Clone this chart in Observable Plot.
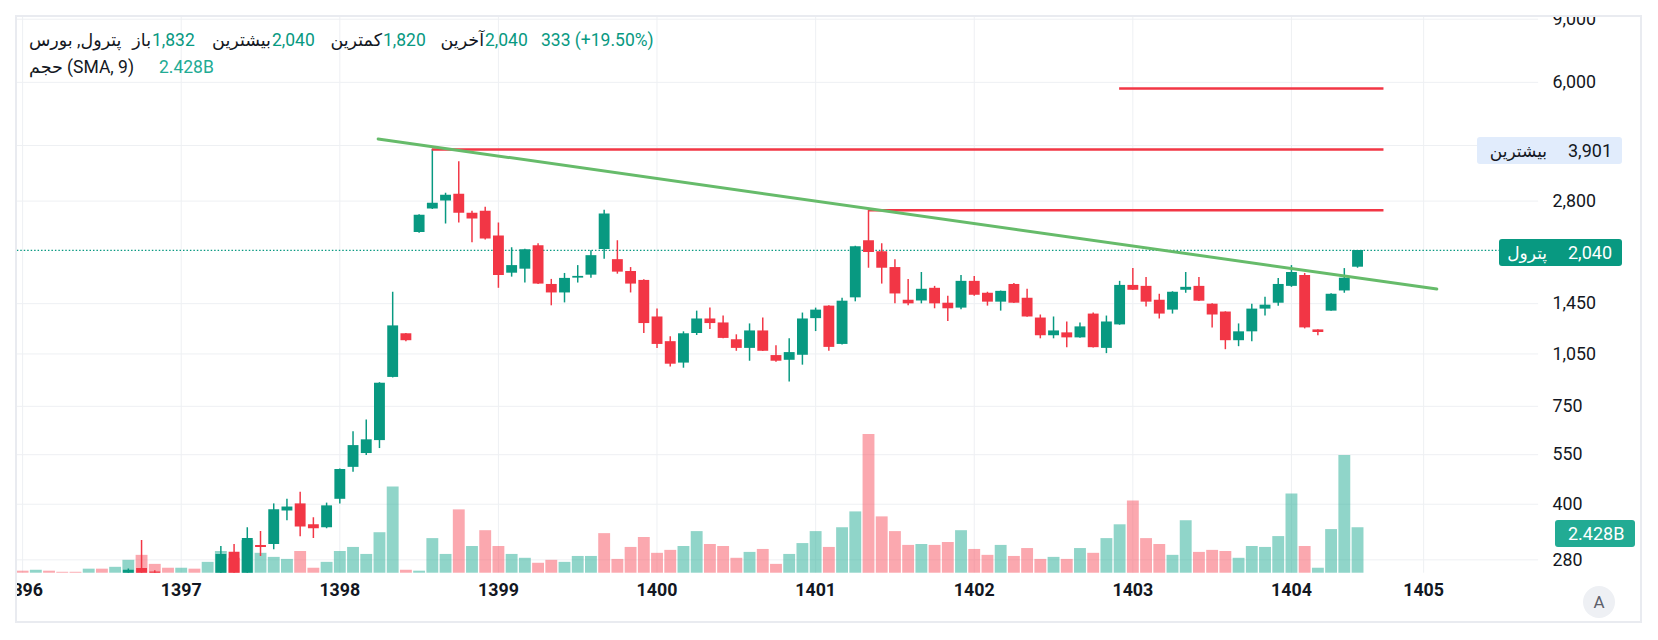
<!DOCTYPE html>
<html>
<head>
<meta charset="utf-8">
<script src="https://cdn.jsdelivr.net/npm/d3@7"></script>
<script src="https://cdn.jsdelivr.net/npm/@observablehq/plot@0.6"></script>
<style>
  html, body { margin: 0; padding: 0; background: #ffffff; }
  body { width: 1658px; height: 640px; overflow: hidden; font-family: Roboto, "DejaVu Sans", sans-serif; }
  #wrap { position: relative; width: 1658px; height: 640px; }
  #frame { position: absolute; left: 15px; top: 15px; width: 1627px; height: 608px; box-sizing: border-box;
           border: 2px solid #e9ebf0; overflow: hidden; }
  .layer { position: absolute; left: -17px; top: -17px; }
  .abs { position: absolute; white-space: pre; line-height: 22px; height: 22px; font-size: 17.5px; }
  .iso { unicode-bidi: isolate; }
  .badge { position: absolute; border-radius: 3px; }
  #auto { position: absolute; left: 1583px; top: 586px; width: 32px; height: 32px; border-radius: 16px;
          background: #eef0f4; color: #5d606b; font-size: 17px; line-height: 32px; text-align: center; }
</style>
</head>
<body>
<div id="wrap">
  <div id="frame"></div>
  <div id="auto">A</div>
</div>
<script>
// ---------- data ----------
const firstBar = -12;                       // bar index of 1396/01 (monthly bars)
const yearBars   = [-12, 0, 12, 24, 36, 48, 60, 72, 84, 94];
const yearLabels = ["1396","1397","1398","1399","1400","1401","1402","1403","1404","1405"];
const priceGrid   = [9000, 6000, 4000, 2800, 1450, 1050, 750, 550, 400, 280];
const priceLabels = [9000, 6000, 2800, 1450, 1050, 750, 550, 400, 280];

// monthly volume (billions), from 1396/01
const volumes = [
  0.11,0.16,0.11,0.05,0.05,0.22,0.22,0.32,0.70,0.97,0.48,0.27,   // 1396
  0.27,0.22,0.59,1.18,0.81,1.77,1.08,0.86,0.75,1.18,0.27,0.59,   // 1397
  1.18,1.40,1.02,2.20,4.68,0.16,0.11,1.88,1.02,3.44,1.45,2.31,   // 1398
  1.45,1.02,0.81,0.54,0.70,0.59,0.91,0.91,2.15,0.75,1.40,1.94,   // 1399
  1.08,1.24,1.45,2.26,1.56,1.45,0.81,1.13,1.29,0.48,1.02,1.61,   // 1400
  2.26,1.40,2.47,3.33,7.53,3.06,2.26,1.51,1.56,1.51,1.67,2.31,   // 1401
  1.29,0.97,1.51,0.91,1.34,0.75,0.86,0.75,1.34,1.08,1.88,2.63,   // 1402
  3.92,1.88,1.56,0.97,2.85,1.13,1.24,1.18,0.81,1.45,1.40,1.99,   // 1403
  4.30,1.45,0.27,2.37,6.40,2.47                                  // 1404
];
const volumeDirs = [
  "d","u","d","d","d","u","d","u","u","d","d","d",
  "u","d","u","u","d","u","u","u","u","d","d","u",
  "u","u","u","u","u","d","u","u","u","d","u","d",
  "d","u","u","d","d","u","u","u","d","d","d","d",
  "d","d","u","u","d","d","d","u","d","d","u","u",
  "u","d","u","u","d","d","d","d","u","d","d","u",
  "d","d","u","d","d","d","u","d","u","d","u","u",
  "d","d","d","u","u","d","d","d","u","u","u","u",
  "u","d","u","u","u","u"
];

// monthly candles from bar index -4 (1396/09); null = below the visible range
const candleFirst = -4;
const opens = [
  256, 265, 259, null, null, null, null, 256, 294, 256, 307, 309, 383, 401, 351, 344,
  413, 507, 554, 602, 903, 1195, 2288, 2664, 2803, 2924, 2592, 2625,
  2240, 1763, 1809, 2102, 1640, 1553, 1708, 1741, 2054, 1923, 1782, 1683,
  1331, 1136, 990, 1197, 1314, 1281, 1150, 1088, 1217, 1039, 1008, 1041,
  1317, 1427, 1116, 1505, 2170, 2023, 1828, 1482, 1475, 1600, 1454, 1409,
  1673, 1550, 1464, 1640, 1501, 1322, 1180, 1202, 1164, 1356, 1088, 1265,
  1630, 1620, 1482, 1391, 1580, 1620, 1445, 1374, 1143, 1210, 1400, 1454,
  1620, 1737, 1225, 1382, 1573, 1832
];
const highs = [
  264, 317, 261, null, null, null, null, 305, 309, 344, 336, 401, 413, 432, 367, 403,
  502, 637, 687, 873, 1560, 1197, 2565, 3901, 2943, 3606, 2625, 2693,
  2432, 2075, 2055, 2129, 1694, 1760, 1851, 2036, 2642, 2170, 1828, 1690,
  1400, 1172, 1210, 1382, 1409, 1339, 1187, 1273, 1322, 1107, 1157, 1365,
  1409, 1430, 1501, 2095, 2642, 2129, 1923, 1694, 1771, 1620, 1521, 1737,
  1727, 1560, 1572, 1651, 1590, 1348, 1331, 1289, 1281, 1365, 1339, 1673,
  1816, 1715, 1540, 1565, 1771, 1715, 1448, 1376, 1273, 1445, 1511, 1705,
  1851, 1760, 1227, 1545, 1816, 2040
];
const lows = [
  256, 256, 256, null, null, null, null, 256, 256, 256, 286, 299, 360, 325, 321, 342,
  401, 491, 547, 572, 900, 1136, 2280, 2655, 2417, 2432, 2142, 2183,
  1600, 1719, 1655, 1640, 1430, 1457, 1655, 1708, 1927, 1752, 1553, 1197,
  1088, 965, 958, 1182, 1228, 1158, 1068, 1002, 1066, 996, 877, 977,
  1212, 1068, 1112, 1467, 1820, 1644, 1448, 1430, 1448, 1403, 1292, 1394,
  1521, 1427, 1382, 1452, 1328, 1157, 1157, 1093, 1162, 1090, 1052, 1262,
  1578, 1418, 1314, 1356, 1550, 1470, 1241, 1079, 1100, 1136, 1339, 1427,
  1610, 1233, 1180, 1380, 1550, 1820
];
const closes = [
  262, 256, 256, null, null, null, null, 290, 256, 321, 303, 386, 393, 346, 342, 396,
  500, 583, 605, 870, 1257, 1143, 2559, 2761, 2906, 2592, 2495, 2197,
  1737, 1851, 2049, 1644, 1553, 1705, 1727, 1973, 2576, 1775, 1644, 1276,
  1116, 983, 1195, 1314, 1276, 1160, 1088, 1217, 1068, 1002, 1059, 1314,
  1391, 1095, 1473, 2089, 2015, 1820, 1543, 1448, 1590, 1448, 1403, 1673,
  1530, 1464, 1569, 1454, 1331, 1180, 1217, 1164, 1249, 1093, 1289, 1630,
  1580, 1464, 1356, 1560, 1610, 1473, 1348, 1143, 1210, 1400, 1436, 1640,
  1771, 1241, 1205, 1540, 1707, 2040
];

// drawn levels and trend line
const levelPrices = [5770, 3901, 2642];
const levelFrom   = [71, 19, 52];
const levelTo     = [91, 91, 91];
const trendBars   = [14.9, 95];
const trendPrices = [4173, 1592];

const lastPrice = 2040;
const highPrice = 3901;
const volumeSMA = 2.428;
const symbolName = "پترول";
const legendTitle = "پترول, بورس";
const ohlcLabels = ["باز", "بیشترین", "کمترین", "آخرین"];
const ohlcValues = ["1,832", "2,040", "1,820", "2,040"];
const changeText = "333 (+19.50%)";
const volumeTitle = "حجم (SMA, 9)";
const volumeText = "2.428B";
const highLabel = "بیشترین";

// ---------- scales / layout ----------
const xDomain = [-12.4, 102.7];
const yDomain = [257, 9110];
const volDomain = [0, 30.2];
const FONT = "Roboto, 'DejaVu Sans', sans-serif";
const GREEN = "#089981", RED = "#f23645";
const fmt = d3.format(",");

const base = {
  width: 1658, height: 640,
  marginLeft: 17, marginRight: 103, marginTop: 17, marginBottom: 61,
  style: { background: "transparent", fontFamily: FONT, overflow: "visible" },
  x: { domain: xDomain, axis: null }
};
const priceY = { type: "log", domain: yDomain, axis: null };

const candles = opens.map((o, i) => ({ n: candleFirst + i, o, h: highs[i], l: lows[i], c: closes[i] }))
  .filter(d => d.o != null);
const vols = volumes.map((v, i) => ({ n: firstBar + i, v, dir: volumeDirs[i] }));
const levels = levelPrices.map((p, i) => ({ p, a: levelFrom[i], b: levelTo[i] }));
const trend = trendBars.map((n, i) => ({ n, p: trendPrices[i] }));

// layer A: grid and axis labels
const layerA = Plot.plot({
  ...base, y: priceY,
  marks: [
    Plot.ruleX(yearBars, { stroke: "#eef0f3", strokeOpacity: 1 }),
    Plot.ruleY(priceGrid, { stroke: "#eef0f3", strokeOpacity: 1 }),
    Plot.text(priceLabels, { y: d => d, frameAnchor: "right", dx: 14, textAnchor: "start",
      text: d => fmt(d), fontSize: 18, fill: "#131722" }),
    Plot.text(yearBars, { x: d => d, frameAnchor: "bottom", dy: 23,
      text: (d, i) => yearLabels[i], fontSize: 18, fontWeight: 700, fill: "#131722" })
  ]
});

// layer B: volume
const layerB = Plot.plot({
  ...base, y: { domain: volDomain, axis: null },
  marks: [
    Plot.ruleX(vols, { filter: d => d.dir === "u", x: "n", y1: d => 0, y2: "v",
      stroke: "#22ab94", strokeOpacity: 0.5, strokeWidth: 12 }),
    Plot.ruleX(vols, { filter: d => d.dir === "d", x: "n", y1: d => 0, y2: "v",
      stroke: "#f7525f", strokeOpacity: 0.5, strokeWidth: 12 })
  ]
});

// layer C: candles, drawings
const up = d => d.c >= d.o;
const layerC = Plot.plot({
  ...base, y: priceY,
  marks: [
    Plot.ruleY([lastPrice], { stroke: GREEN, strokeWidth: 1.3, strokeDasharray: "1.5,2" }),
    Plot.ruleX(candles, { filter: up, x: "n", y1: "l", y2: "h", stroke: GREEN, strokeWidth: 1.5, clip: true }),
    Plot.ruleX(candles, { filter: d => !up(d), x: "n", y1: "l", y2: "h", stroke: RED, strokeWidth: 1.5, clip: true }),
    Plot.ruleX(candles, { filter: up, x: "n", y1: "o", y2: "c", stroke: GREEN, strokeWidth: 11, clip: true }),
    Plot.ruleX(candles, { filter: d => !up(d), x: "n", y1: "o", y2: "c", stroke: RED, strokeWidth: 11, clip: true }),
    Plot.ruleY(levels, { y: "p", x1: "a", x2: "b", stroke: RED, strokeWidth: 2.6 }),
    Plot.line(trend, { x: "n", y: "p", stroke: "#66bb6a", strokeWidth: 3 })
  ]
});

const frame = document.getElementById("frame");
for (const svg of [layerA, layerB, layerC]) {
  const holder = document.createElement("div");
  holder.className = "layer";
  holder.appendChild(svg);
  frame.appendChild(holder);
}

// ---------- overlays: legend and price-scale badges ----------
const wrap = document.getElementById("wrap");
function addSpan(text, opts) {
  const s = document.createElement("span");
  s.className = "abs iso";
  s.textContent = text;
  s.style.color = opts.color || "#131722";
  s.style.top = (opts.cy - 11) + "px";
  if (opts.left != null) s.style.left = opts.left + "px";
  if (opts.right != null) s.style.right = (1658 - opts.right) + "px";
  if (opts.size) s.style.fontSize = opts.size + "px";
  wrap.appendChild(s);
  return s;
}
function addBadge(x1, x2, cy, h, bg) {
  const b = document.createElement("div");
  b.className = "badge";
  b.style.left = x1 + "px"; b.style.width = (x2 - x1) + "px";
  b.style.top = (cy - h / 2) + "px"; b.style.height = h + "px";
  b.style.background = bg;
  wrap.appendChild(b);
}

// legend line 1
const L1 = 40, L2 = 67;
addSpan(legendTitle, { left: 29, cy: L1 });
const valueLefts = [152, 272, 383, 485];
ohlcLabels.forEach((lab, i) => {
  addSpan(lab, { right: valueLefts[i] - 1, cy: L1 });
  addSpan(ohlcValues[i], { left: valueLefts[i], cy: L1, color: GREEN });
});
addSpan(changeText, { left: 541, cy: L1, color: GREEN });
// legend line 2
addSpan(volumeTitle, { left: 29, cy: L2 });
addSpan(volumeText, { left: 159, cy: L2, color: "#22ab94" });

// badges on the price scale
const ys = layerC.scale("y");
const vs = layerB.scale("y");
const yHigh = ys.apply(highPrice);
const yLast = ys.apply(lastPrice);
const yVol = vs.apply(volumeSMA);

addBadge(1477, 1622, yHigh, 27, "#e1ecfc");
addSpan(highLabel, { right: 1547, cy: yHigh, size: 17 });
addSpan(fmt(highPrice), { left: 1568, cy: yHigh, size: 18 });

addBadge(1499, 1622, yLast, 27, GREEN);
addSpan(symbolName, { right: 1547, cy: yLast, color: "#ffffff", size: 17 });
addSpan(fmt(lastPrice), { left: 1568, cy: yLast, color: "#ffffff", size: 18 });

addBadge(1555, 1635, yVol, 27, "#22ab94");
addSpan(volumeText, { left: 1568, cy: yVol, color: "#ffffff", size: 18 });
</script>
</body>
</html>
